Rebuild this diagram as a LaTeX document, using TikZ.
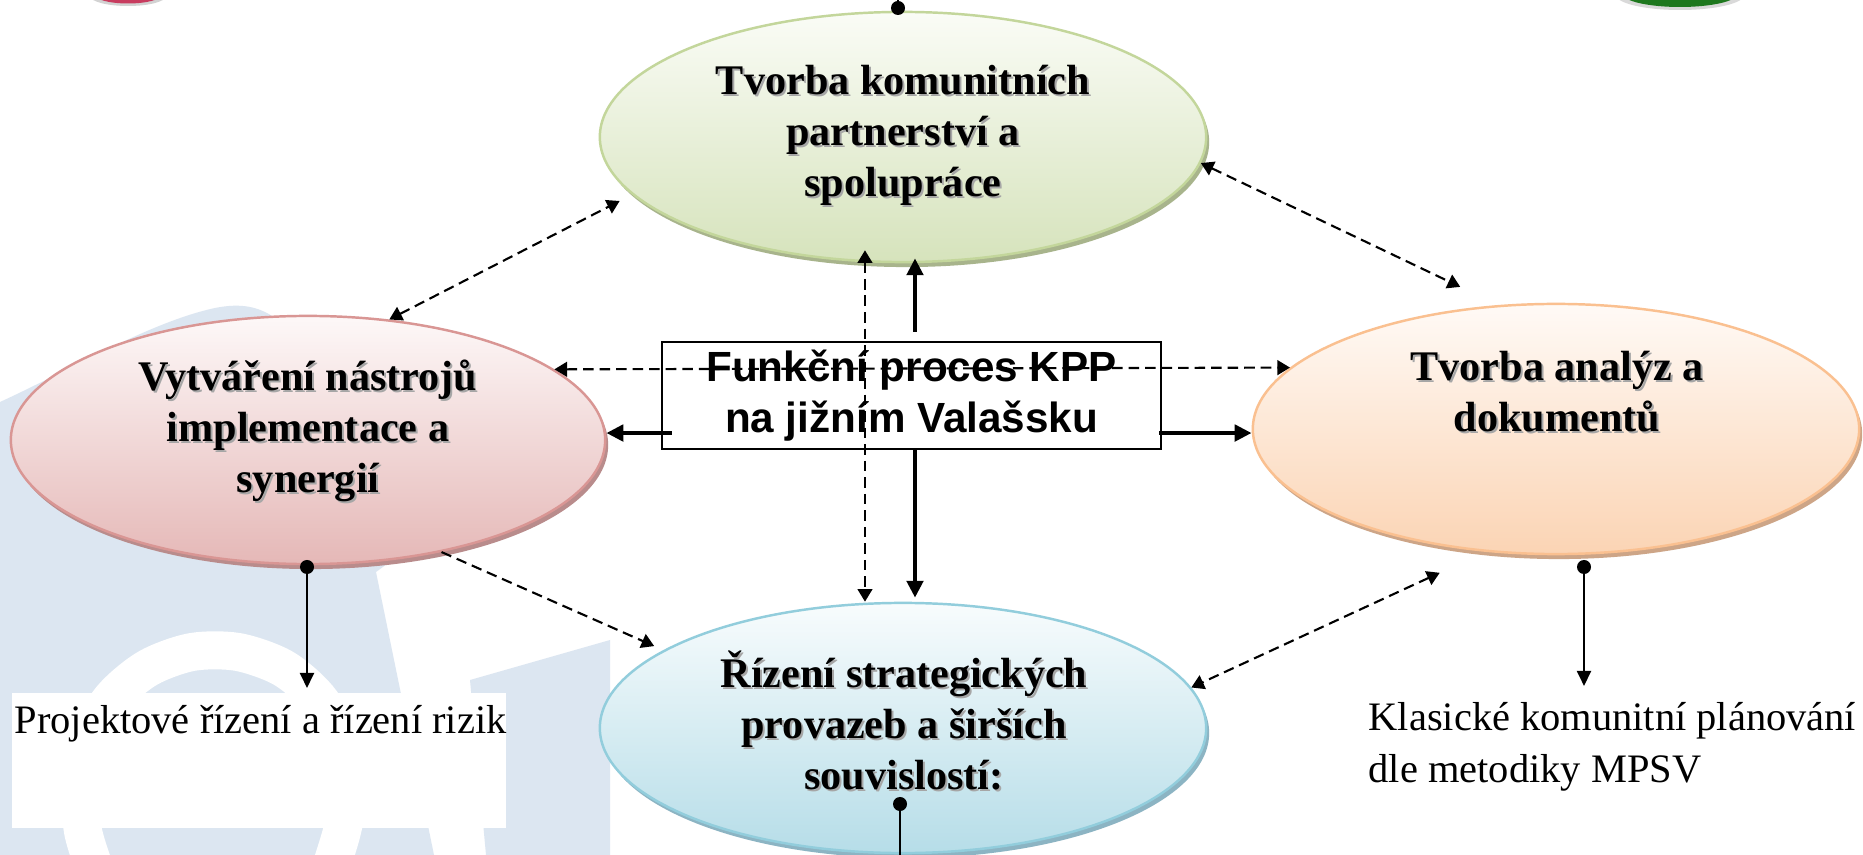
\documentclass[tikz,border=0pt]{standalone}
\usepackage{fontspec}
\setmainfont{Liberation Serif}
\newfontfamily\kppfont{Liberation Sans}
\usetikzlibrary{shapes.geometric,arrows.meta}
\definecolor{wmblue}{RGB}{220,230,241}
\definecolor{grline}{RGB}{195,214,155}
\definecolor{grtop}{RGB}{250,252,246}
\definecolor{grbot}{RGB}{214,227,188}
\definecolor{grsh}{RGB}{168,180,140}
\definecolor{pkline}{RGB}{217,150,148}
\definecolor{pktop}{RGB}{253,248,248}
\definecolor{pkbot}{RGB}{229,184,183}
\definecolor{pksh}{RGB}{185,140,140}
\definecolor{orline}{RGB}{250,192,144}
\definecolor{ortop}{RGB}{255,250,246}
\definecolor{orbot}{RGB}{251,212,180}
\definecolor{orsh}{RGB}{205,165,135}
\definecolor{blline}{RGB}{146,205,220}
\definecolor{bltop}{RGB}{248,252,253}
\definecolor{blbot}{RGB}{182,221,232}
\definecolor{blsh}{RGB}{140,180,195}
\definecolor{topgreen}{RGB}{30,120,30}
\definecolor{toppink}{RGB}{200,60,95}
\begin{document}
\begin{tikzpicture}[x=0.01cm, y=-0.01cm,
  ell/.style={ellipse, inner sep=0pt, minimum width=6.06cm, minimum height=2.5cm, line width=0.7pt},
  greenell/.style={ell, draw=grline, top color=grtop, bottom color=grbot,
     preaction={fill=grsh, transform canvas={xshift=0.03cm, yshift=-0.05cm}}},
  pinkell/.style={ell, minimum width=5.94cm, minimum height=2.48cm, draw=pkline, top color=pktop, bottom color=pkbot,
     preaction={fill=pksh, transform canvas={xshift=0.03cm, yshift=-0.05cm}}},
  orangeell/.style={ell, draw=orline, top color=ortop, bottom color=orbot,
     preaction={fill=orsh, transform canvas={xshift=0.03cm, yshift=-0.05cm}}},
  blueell/.style={ell, draw=blline, top color=bltop, bottom color=blbot,
     preaction={fill=blsh, transform canvas={xshift=0.03cm, yshift=-0.05cm}}},
  etext/.style={font=\fontsize{12}{14.5}\selectfont\bfseries, align=center, inner sep=0pt},
  etextsh/.style={etext, text=black!35},
  plain/.style={font=\fontsize{11.5}{14.8}\selectfont, align=left, inner sep=0pt},
  dd/.style={dash pattern=on 3pt off 1.7pt, line width=0.6pt, {Triangle[length=3.6pt,width=4.2pt]}-{Triangle[length=3.6pt,width=4.2pt]}},
  dsingle/.style={dash pattern=on 3pt off 1.7pt, line width=0.6pt, -{Triangle[length=3.6pt,width=4.2pt]}},
  thick arrow/.style={line width=1.3pt, -{Triangle[length=4.8pt,width=4.6pt]}},
  thinarrow/.style={line width=0.6pt, -{Triangle[length=4.3pt,width=4pt]}},
  thinline/.style={line width=0.6pt},
  dotn/.style={circle, fill=black, inner sep=0pt, minimum size=0.14cm}
]
\useasboundingbox (0,0) rectangle (1863,855);
\fill[white] (0,0) rectangle (1863,855);
% watermark
\fill[wmblue] (0,402) .. controls (70,370) and (150,322) .. (215,308)
   .. controls (240,303) and (258,306) .. (275,318) -- (330,335) -- (420,540) -- (376,572) -- (434,855) -- (0,855) -- cycle;
\fill[wmblue] (470,680) -- (610,640) -- (610,855) -- (486,855) -- cycle;
\draw[white, line width=0.38cm] plot[smooth] coordinates {(95,870) (83,831) (80,785) (88,739) (112,698) (148,668) (192,652) (238,652) (283,668) (318,698) (342,739) (350,785) (342,831) (330,870)};
% partial circles at top edge
\fill[gray!35] (128,-4) ellipse [x radius=38, y radius=10];
\fill[toppink] (128,-5) ellipse [x radius=33, y radius=8.5];
\fill[gray!30] (1680,-5) ellipse [x radius=64, y radius=15];
\fill[topgreen] (1680,-6) ellipse [x radius=57, y radius=13];

% ellipses
\node[greenell] (green) at (903,137) {};
\node[pinkell] (pink) at (308,440) {};
\node[orangeell] (orange) at (1556,429) {};
\node[blueell] (blue) at (903,728) {};

% central box
\node[draw, line width=0.6pt, minimum width=4.99cm, minimum height=1.07cm, inner sep=0pt] (kpp) at (911.5,395.5) {};

% dashed links
\draw[dd, shorten >=0.14cm] (pink.56) -- (green.192);
\draw[dd, shorten >=0.42cm] (green.-5) -- (orange.115);
\draw[dd, shorten <=0.5cm] (orange.240) -- (blue.8);
\draw[dsingle, shorten >=0.1cm] (pink.-40) -- (blue.162);
\draw[dd] (pink.16.7) -- (orange.167.2);
\coordinate (vdTop) at ([xshift=-0.38cm, yshift=0.13cm]green.south);
\coordinate (vdBot) at ([xshift=-0.38cm]blue.north);
\draw[dd] (vdTop) -- (vdBot);

% solid arrows from the box
\coordinate (kU) at ([xshift=0.035cm, yshift=0.09cm]kpp.north);
\coordinate (kD) at ([xshift=0.035cm]kpp.south);
\coordinate (kL) at ([xshift=0.11cm, yshift=-0.375cm]kpp.west);
\coordinate (kR) at ([xshift=-0.03cm, yshift=-0.375cm]kpp.east);
\draw[thick arrow, shorten >=-0.05cm] (kU) -- (kU |- green.south);
\draw[thick arrow, shorten >=0.04cm] (kD) -- (kD |- blue.north);
\draw[thick arrow] (kL) -- (kL -| pink.east);
\draw[thick arrow] (kR) -- (kR -| orange.west);

% white panel and outer texts
\node[fill=white, minimum width=4.94cm, minimum height=1.35cm, anchor=north west, inner sep=0pt] (projbg) at (11,692) {};
\node[plain, anchor=north west] (proj) at (14,705) {Projektové řízení a řízení rizik};
\node[plain, anchor=north west] (klas) at (1368,702) {Klasické komunitní plánování\\dle metodiky MPSV};

% dots and their lines
\node[dotn] (gdot) at (898,8) {};
\coordinate (gtop) at (898,-5);
\draw[thinline] (gdot.center) -- (gtop);
\node[dotn] (bdot) at (900,804) {};
\coordinate (bbot) at (900,862);
\draw[thinline] (bdot.center) -- (bbot);
\node[dotn] (pdot) at (307,567) {};
\draw[thinarrow, shorten >=0.04cm] (pdot.center) -- (pdot |- projbg.north);
\node[dotn] (odot) at (1584,567) {};
\draw[thinarrow, shorten >=0.16cm] (odot.center) -- (odot |- klas.north);

% ellipse texts with shadow
\node[etextsh] (grTs) at (905,137) {Tvorba komunitních\\partnerství a\\spolupráce};
\node[etext] (grT) at (903,135) {Tvorba komunitních\\partnerství a\\spolupráce};
\node[etextsh] (pkTs) at (310,433) {Vytváření nástrojů\\implementace a\\synergií};
\node[etext] (pkT) at (308,431) {Vytváření nástrojů\\implementace a\\synergií};
\node[etextsh] (orTs) at (1559,394) {Tvorba analýz a\\dokumentů};
\node[etext] (orT) at (1557,392) {Tvorba analýz a\\dokumentů};
\node[etextsh] (blTs) at (906,722) {Řízení strategických\\provazeb a širších\\souvislostí:};
\node[etext] (blT) at (904,720) {Řízení strategických\\provazeb a širších\\souvislostí:};

% box text
\node[font=\kppfont\fontsize{12}{14.5}\selectfont\bfseries, align=center, inner sep=0pt] (kppT) at (kpp.center) {Funkční proces KPP\\na jižním Valašsku};
\end{tikzpicture}
\end{document}
